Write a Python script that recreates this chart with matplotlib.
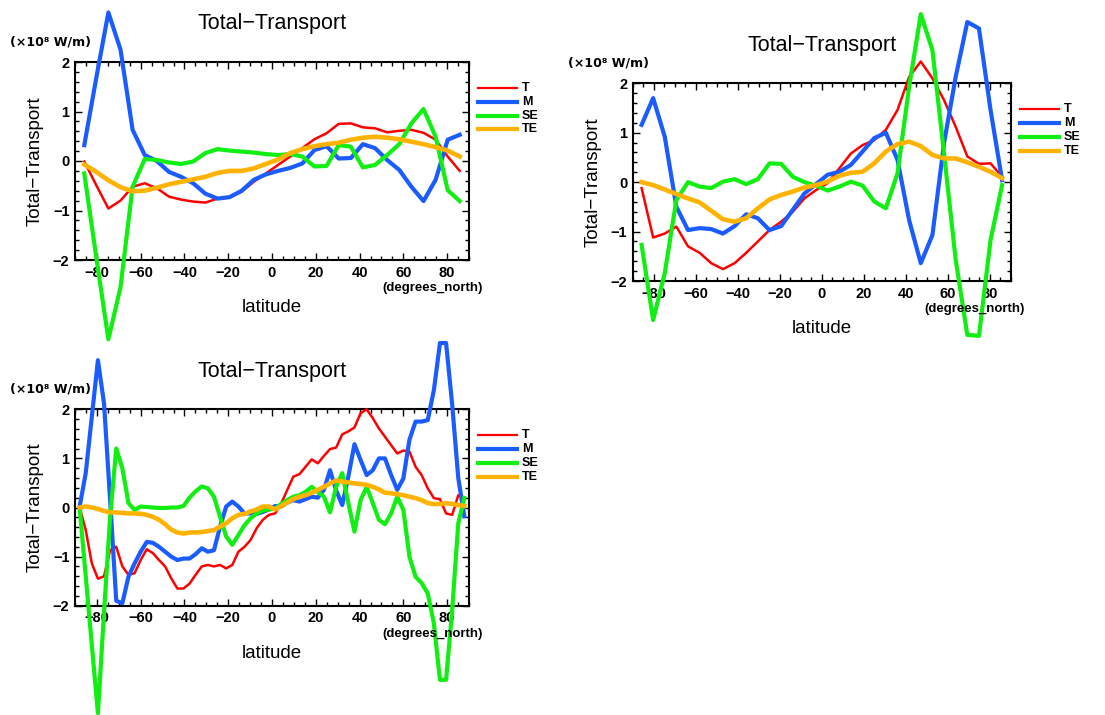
import matplotlib.pyplot as plt
from matplotlib.lines import Line2D
from matplotlib.ticker import MultipleLocator

plt.rcParams['font.family'] = ['Liberation Sans', 'DejaVu Sans']

# latitudes (gaussian grids)
lat32 = [-85.76, -80.27, -74.75, -69.21, -63.68, -58.14, -52.61, -47.07,
         -41.53, -36.00, -30.46, -24.92, -19.38, -13.84, -8.31, -2.77,
         2.77, 8.31, 13.84, 19.38, 24.92, 30.46, 36.00, 41.53,
         47.07, 52.61, 58.14, 63.68, 69.21, 74.75, 80.27, 85.76]

lat64 = [-87.86, -85.10, -82.31, -79.53, -76.74, -73.95, -71.16, -68.37,
         -65.58, -62.79, -60.00, -57.21, -54.42, -51.63, -48.84, -46.05,
         -43.25, -40.46, -37.67, -34.88, -32.09, -29.30, -26.51, -23.72,
         -20.93, -18.14, -15.35, -12.56, -9.77, -6.98, -4.19, -1.40,
         1.40, 4.19, 6.98, 9.77, 12.56, 15.35, 18.14, 20.93,
         23.72, 26.51, 29.30, 32.09, 34.88, 37.67, 40.46, 43.25,
         46.05, 48.84, 51.63, 54.42, 57.21, 60.00, 62.79, 65.58,
         68.37, 71.16, 73.95, 76.74, 79.53, 82.31, 85.10, 87.86]

names = ['T', 'M', 'SE', 'TE']

# panel 1 (upper left)
t1 = [-0.01, -0.49, -0.96, -0.80, -0.52, -0.45, -0.55, -0.72, -0.78, -0.82, -0.84, -0.76, -0.74, -0.62, -0.42, -0.25,
      -0.08, 0.09, 0.26, 0.44, 0.56, 0.75, 0.76, 0.68, 0.66, 0.58, 0.61, 0.63, 0.57, 0.43, 0.09, -0.20]
m1 = [0.32, 1.68, 3.00, 2.25, 0.63, 0.12, 0.00, -0.22, -0.32, -0.45, -0.66, -0.76, -0.73, -0.60, -0.38, -0.27,
      -0.20, -0.14, -0.05, 0.22, 0.30, 0.05, 0.06, 0.34, 0.26, 0.02, -0.18, -0.52, -0.81, -0.38, 0.43, 0.53]
se1 = [-0.25, -1.95, -3.60, -2.55, -0.52, 0.04, 0.02, -0.03, -0.06, -0.01, 0.16, 0.24, 0.21, 0.19, 0.17, 0.14,
       0.12, 0.14, 0.09, -0.11, -0.10, 0.32, 0.29, -0.13, -0.08, 0.12, 0.34, 0.76, 1.05, 0.49, -0.59, -0.81]
te1 = [-0.07, -0.22, -0.39, -0.53, -0.61, -0.60, -0.54, -0.47, -0.42, -0.37, -0.32, -0.24, -0.20, -0.20, -0.15, -0.06,
       0.03, 0.16, 0.24, 0.30, 0.34, 0.37, 0.43, 0.47, 0.49, 0.47, 0.44, 0.39, 0.34, 0.28, 0.21, 0.09]

# panel 2 (upper right)
t2 = [-0.12, -1.12, -1.04, -0.90, -1.30, -1.43, -1.64, -1.76, -1.64, -1.43, -1.20, -0.97, -0.80, -0.60, -0.33, -0.16,
      -0.02, 0.28, 0.58, 0.75, 0.85, 1.06, 1.46, 2.13, 2.44, 2.10, 1.66, 1.12, 0.52, 0.37, 0.38, 0.11]
m2 = [1.16, 1.70, 0.92, -0.50, -0.97, -0.93, -0.95, -1.04, -0.89, -0.65, -0.73, -0.97, -0.89, -0.56, -0.23, -0.04,
      0.15, 0.21, 0.35, 0.62, 0.89, 1.00, 0.45, -0.77, -1.64, -1.07, 0.79, 2.13, 3.24, 3.11, 1.46, 0.04]
se2 = [-1.27, -2.79, -1.84, -0.36, 0.00, -0.09, -0.12, 0.01, 0.06, -0.04, 0.06, 0.38, 0.37, 0.11, 0.00, -0.07,
       -0.17, -0.09, 0.01, -0.07, -0.39, -0.53, 0.18, 1.93, 3.40, 2.67, 0.58, -1.57, -3.09, -3.11, -1.17, -0.06]
te2 = [0.00, -0.06, -0.15, -0.24, -0.33, -0.41, -0.58, -0.75, -0.80, -0.73, -0.53, -0.35, -0.26, -0.19, -0.11, -0.06,
       0.01, 0.13, 0.19, 0.21, 0.38, 0.62, 0.77, 0.82, 0.73, 0.55, 0.48, 0.48, 0.40, 0.31, 0.21, 0.08]

# panel 3 (lower left)
t3 = [0.00, -0.46, -1.14, -1.45, -1.40, -0.87, -0.80, -1.20, -1.37, -1.34, -1.07, -0.85, -0.93, -1.07, -1.20, -1.44,
      -1.65, -1.65, -1.55, -1.37, -1.20, -1.17, -1.20, -1.17, -1.24, -1.17, -0.90, -0.80, -0.66, -0.42, -0.25, -0.15,
      -0.12, 0.08, 0.36, 0.63, 0.68, 0.83, 0.98, 0.90, 1.05, 1.19, 1.22, 1.49, 1.55, 1.63, 1.92, 2.00,
      1.82, 1.61, 1.44, 1.27, 1.10, 1.16, 1.14, 0.83, 0.66, 0.39, 0.19, 0.17, -0.12, -0.15, 0.25, 0.20]
m3 = [0.02, 0.70, 1.85, 3.00, 2.12, 0.15, -1.90, -1.95, -1.41, -1.14, -0.90, -0.70, -0.72, -0.80, -0.90, -1.00,
      -1.07, -1.04, -1.04, -0.95, -0.83, -0.90, -0.87, -0.39, 0.02, 0.12, 0.02, -0.12, -0.12, -0.13, -0.09, -0.04,
      0.03, 0.02, 0.10, 0.15, 0.12, 0.17, 0.22, 0.20, 0.36, 0.76, 0.35, 0.05, 0.63, 1.29, 0.97, 0.66,
      0.76, 1.00, 1.00, 0.66, 0.36, 0.59, 1.38, 1.75, 1.75, 1.78, 2.39, 3.35, 3.35, 2.10, 0.60, -0.18]
se3 = [-0.02, -1.40, -2.80, -4.19, -2.14, -0.19, 1.20, 0.80, 0.09, -0.05, 0.02, 0.01, 0.00, -0.01, -0.01, 0.00,
       0.00, 0.03, 0.20, 0.33, 0.43, 0.39, 0.22, -0.19, -0.59, -0.76, -0.56, -0.36, -0.22, -0.12, -0.06, -0.04,
       -0.02, 0.07, 0.15, 0.22, 0.25, 0.32, 0.42, 0.32, 0.22, -0.10, 0.42, 0.70, 0.09, -0.49, 0.15, 0.42,
       0.09, -0.25, -0.34, -0.12, 0.22, -0.05, -1.00, -1.41, -1.54, -1.75, -2.36, -3.51, -3.51, -2.09, -0.32, 0.19]
te3 = [0.00, 0.02, 0.00, -0.03, -0.07, -0.10, -0.10, -0.11, -0.12, -0.12, -0.13, -0.15, -0.19, -0.25, -0.34, -0.45,
       -0.51, -0.53, -0.51, -0.51, -0.50, -0.48, -0.46, -0.39, -0.32, -0.22, -0.15, -0.13, -0.08, -0.04, 0.02, 0.02,
       -0.04, 0.03, 0.10, 0.17, 0.22, 0.25, 0.30, 0.36, 0.42, 0.49, 0.55, 0.53, 0.51, 0.49, 0.48, 0.46,
       0.42, 0.37, 0.30, 0.29, 0.27, 0.25, 0.22, 0.19, 0.15, 0.09, 0.07, 0.07, 0.09, 0.07, 0.05, 0.03]

colors = ['#ff0000', '#1a5cff', '#11ee11', '#ffb300']
widths = [1.8, 3.0, 3.0, 3.3]
leg_widths = [1.6, 3.0, 3.0, 3.0]

W, H = 1105, 715
fig = plt.figure(figsize=(W / 100, H / 100), dpi=100)


def ftext(x, y, s, **kw):
    # text placed in figure pixel coords (y from top)
    fig.text(x / W, 1 - y / H, s, **kw)


def panel(box, lat, series):
    L, T, R, B = box
    ax = fig.add_axes([L / W, 1 - B / H, (R - L) / W, (B - T) / H])
    for y, c, lw in zip(series, colors, widths):
        ax.plot(lat, y, color=c, lw=lw, clip_on=False)
    ax.set_xlim(-90, 90)
    ax.set_ylim(-2, 2)
    ax.xaxis.set_major_locator(MultipleLocator(20))
    ax.xaxis.set_minor_locator(MultipleLocator(5))
    ax.yaxis.set_major_locator(MultipleLocator(1))
    ax.yaxis.set_minor_locator(MultipleLocator(0.2))
    ax.tick_params(which='both', direction='in', top=True, right=True, width=1)
    ax.tick_params(which='major', length=5, labelsize=10.5, pad=4)
    ax.tick_params(which='minor', length=3)
    for lab in ax.get_xticklabels() + ax.get_yticklabels():
        lab.set_fontweight('bold')
    for sp in ax.spines.values():
        sp.set_linewidth(1.5)
        sp.set_zorder(0)

    mid = (L + R) / 2
    ftext(mid, T - 38, 'Total\u2212Transport', fontsize=15.5, ha='center', va='center')
    ftext(L - 65, T - 20, '(\u00d710\u2078 W/m)', fontsize=9, fontweight='bold',
          ha='left', va='center', family=['DejaVu Sans'])
    ftext(L - 40, (T + B) / 2, 'Total\u2212Transport', fontsize=13.5, rotation=90,
          ha='center', va='center')
    ftext(R + 14, B + 28, '(degrees_north)', fontsize=9.5, fontweight='bold',
          ha='right', va='center')
    ftext(mid, B + 48, 'latitude', fontsize=13.5, ha='center', va='center')

    # legend on the right
    for i, (nm, c, lw) in enumerate(zip(names, colors, leg_widths)):
        yy = T + 26 + i * 13.8
        fig.add_artist(Line2D([(R + 9) / W, (R + 48) / W], [1 - yy / H, 1 - yy / H],
                              color=c, lw=lw, transform=fig.transFigure))
        ftext(R + 53, yy, nm, fontsize=9, fontweight='bold', ha='left', va='center')
    return ax


panel((75, 62, 469, 260), lat32, [t1, m1, se1, te1])
panel((632.7, 83.3, 1011, 281), lat32, [t2, m2, se2, te2])
panel((75, 409.3, 469, 605.7), lat64, [t3, m3, se3, te3])

plt.savefig('out.png', dpi=100)
